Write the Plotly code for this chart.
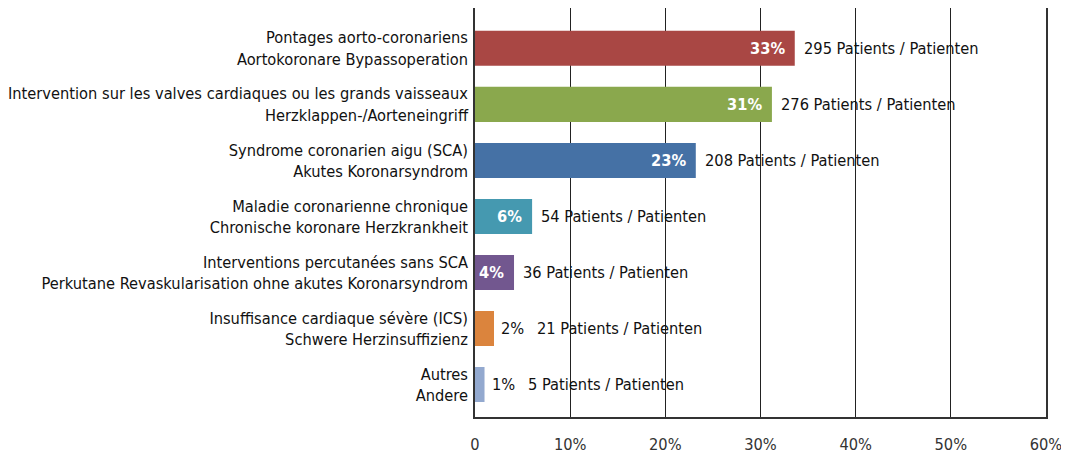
import plotly.graph_objects as go

categories = [
    "Pontages aorto-coronariens<br>Aortokoronare Bypassoperation",
    "Intervention sur les valves cardiaques ou les grands vaisseaux<br>Herzklappen-/Aorteneingriff",
    "Syndrome coronarien aigu (SCA)<br>Akutes Koronarsyndrom",
    "Maladie coronarienne chronique<br>Chronische koronare Herzkrankheit",
    "Interventions percutanées sans SCA<br>Perkutane Revaskularisation ohne akutes Koronarsyndrom",
    "Insuffisance cardiaque sévère (ICS)<br>Schwere Herzinsuffizienz",
    "Autres<br>Andere",
]
percent_values = [33.6, 31.2, 23.2, 6.0, 4.1, 2.0, 1.0]
percent_labels = ["33%", "31%", "23%", "6%", "4%", "2%", "1%"]
patients = [295, 276, 208, 54, 36, 21, 5]
colors = ["#A94744", "#8AA84D", "#4571A5", "#4599B0", "#72578F", "#DB843D", "#93A9CF"]
x_ticks = [0, 10, 20, 30, 40, 50, 60]
x_tick_labels = ["0", "10%", "20%", "30%", "40%", "50%", "60%"]

FONT = "Liberation Sans Narrow, DejaVu Sans Condensed, Arial Narrow, sans-serif"
FS = 16.3

fig = go.Figure(go.Bar(
    y=categories, x=percent_values, orientation="h",
    marker=dict(color=colors, line=dict(width=0)),
    width=0.625, hoverinfo="skip",
))

annotations = []
for cat, v, pl, n in zip(categories, percent_values, percent_labels, patients):
    if v >= 4:
        annotations.append(dict(x=v, y=cat, text="<b>%s</b>" % pl, showarrow=False,
                                xanchor="right", xshift=-8,
                                font=dict(family=FONT, size=FS, color="white")))
        annotations.append(dict(x=v, y=cat, text="%d Patients / Patienten" % n, showarrow=False,
                                xanchor="left", xshift=7,
                                font=dict(family=FONT, size=FS, color="#111111")))
    else:
        annotations.append(dict(x=v, y=cat, text=pl, showarrow=False,
                                xanchor="left", xshift=5,
                                font=dict(family=FONT, size=FS, color="#111111")))
        annotations.append(dict(x=v, y=cat, text="%d Patients / Patienten" % n, showarrow=False,
                                xanchor="left", xshift=41,
                                font=dict(family=FONT, size=FS, color="#111111")))

fig.update_layout(
    width=1061, height=446,
    margin=dict(l=467, r=23, t=0, b=37),
    paper_bgcolor="white", plot_bgcolor="white",
    showlegend=False,
    annotations=annotations,
    font=dict(family=FONT, size=FS, color="#111111"),
    xaxis=dict(range=[0, 60], tickvals=x_ticks, ticktext=x_tick_labels,
               showgrid=True, gridcolor="#222222", gridwidth=1,
               showline=True, linecolor="#333333", linewidth=1.5,
               zeroline=False, ticks="", ticklabelstandoff=12, automargin=False,
               tickfont=dict(family=FONT, size=FS, color="#333333"), fixedrange=True),
    yaxis=dict(categoryorder="array", categoryarray=categories[::-1],
               range=[-0.58, 6.72], showgrid=False, zeroline=False,
               showline=True, linecolor="#333333", linewidth=1.5, mirror=True,
               ticks="", ticklabelstandoff=2, automargin=False,
               tickfont=dict(family=FONT, size=FS, color="#111111"), fixedrange=True),
)

fig.write_html("out.html")
